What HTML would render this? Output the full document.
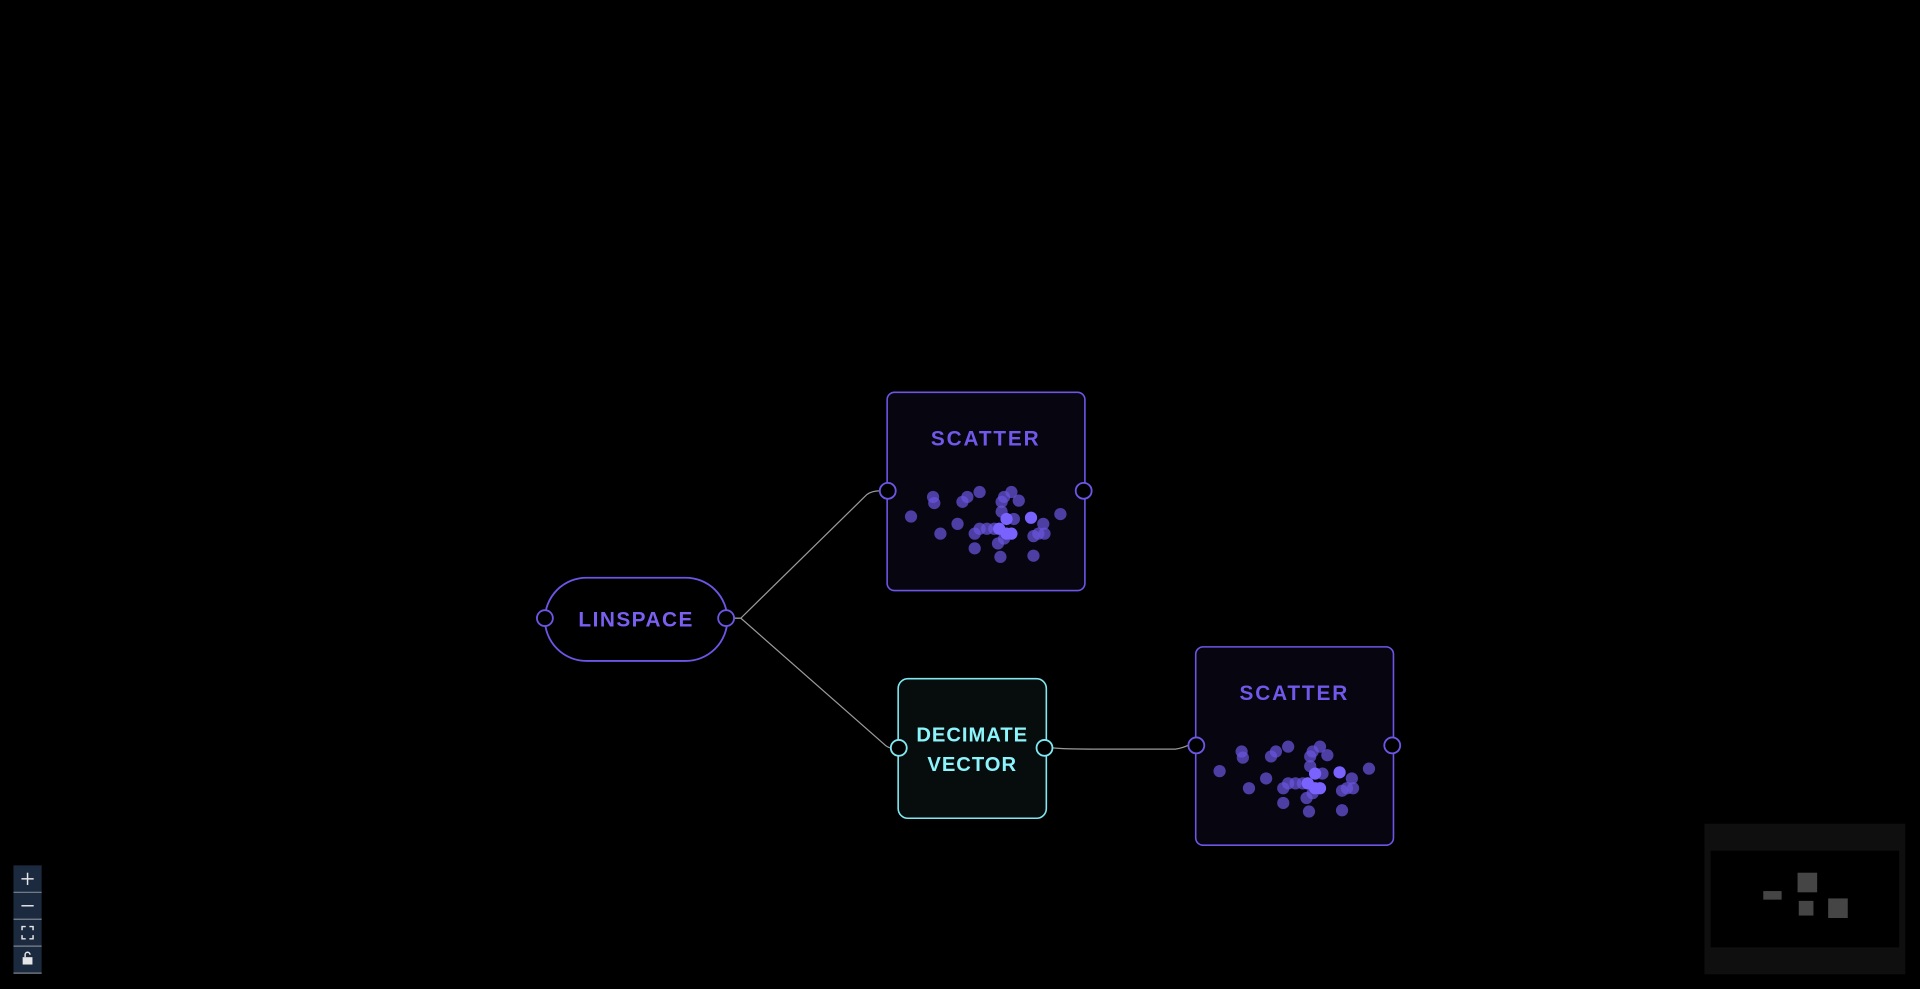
<!DOCTYPE html>
<html><head><meta charset="utf-8"><style>
html,body{margin:0;padding:0;background:#000;width:1920px;height:989px;overflow:hidden}
svg{display:block}
text{font-family:"Liberation Sans",sans-serif;font-weight:bold}
</style></head><body>
<svg width="1920" height="989" viewBox="0 0 1568 808" preserveAspectRatio="none">
<defs>
<g id="dots">
<g fill="#6a54dc" fill-opacity="0.72">
<circle cx="20" cy="102" r="5"/><circle cx="38" cy="86" r="5"/><circle cx="39" cy="91" r="5"/><circle cx="44" cy="116" r="5"/><circle cx="58" cy="108" r="5"/><circle cx="62" cy="90" r="5"/><circle cx="66" cy="86" r="5"/><circle cx="76" cy="82" r="5"/><circle cx="72" cy="116" r="5"/><circle cx="72" cy="128" r="5"/><circle cx="76" cy="112" r="5"/><circle cx="82" cy="112" r="5"/><circle cx="88" cy="112" r="5"/><circle cx="94" cy="90" r="5"/><circle cx="96" cy="86" r="5"/><circle cx="102" cy="82" r="5"/><circle cx="94" cy="98" r="5"/><circle cx="96" cy="120" r="5"/><circle cx="91" cy="124" r="5"/><circle cx="93" cy="135" r="5"/><circle cx="104" cy="104" r="5"/><circle cx="108" cy="89" r="5"/><circle cx="120" cy="118" r="5"/><circle cx="124" cy="116" r="5"/><circle cx="128" cy="108" r="5"/><circle cx="129" cy="116" r="5"/><circle cx="120" cy="134" r="5"/><circle cx="142" cy="100" r="5"/>
</g>
<g fill="#7a62ff">
<circle cx="98" cy="104" r="5"/><circle cx="92" cy="112" r="5"/><circle cx="98" cy="116" r="5"/><circle cx="102" cy="116" r="5"/><circle cx="118" cy="103" r="5"/>
</g>
</g>
</defs>
<!-- edges -->
<g fill="none" stroke="#9a9a9a" stroke-width="1">
<path d="M600 505 L605 505 L708 404 Q712 401 718 401"/>
<path d="M600 505 L605 505 L722 608 Q725 611 728 611"/>
<path d="M860 611 Q866 612 900 612 L960 612 Q966 611 970 609"/>
</g>
<!-- linspace -->
<rect x="445" y="472" width="149" height="68" rx="34" fill="#000" stroke="#6e55e6" stroke-width="1.5"/>
<text x="519.5" y="512" text-anchor="middle" font-size="17" fill="#7a5ff0" letter-spacing="1.2">LINSPACE</text>
<circle cx="445" cy="505" r="6.5" fill="#000" stroke="#6e55e6" stroke-width="1.5"/>
<circle cx="593" cy="505" r="6.5" fill="#000" stroke="#6e55e6" stroke-width="1.5"/>
<!-- scatter 1 -->
<rect x="724.5" y="320.5" width="161.5" height="162" rx="6" fill="#07050f" stroke="#6e55e6" stroke-width="1.3"/>
<text x="805" y="364" text-anchor="middle" font-size="17" fill="#7058ea" letter-spacing="1.5">SCATTER</text>
<g transform="translate(724,320)"><use href="#dots"/></g>
<circle cx="725" cy="401" r="6.5" fill="#000" stroke="#6e55e6" stroke-width="1.5"/>
<circle cx="885" cy="401" r="6.5" fill="#000" stroke="#6e55e6" stroke-width="1.5"/>
<!-- decimate -->
<rect x="733.5" y="554.5" width="121" height="114" rx="8" fill="#070c0d" stroke="#7fe8f0" stroke-width="1.3"/>
<text x="794" y="606" text-anchor="middle" font-size="16.5" fill="#8cf4fb" letter-spacing="0.8">DECIMATE</text>
<text x="794" y="630" text-anchor="middle" font-size="16.5" fill="#8cf4fb" letter-spacing="0.8">VECTOR</text>
<circle cx="734" cy="611" r="6.5" fill="#000" stroke="#7fe8f0" stroke-width="1.5"/>
<circle cx="853" cy="611" r="6.5" fill="#000" stroke="#7fe8f0" stroke-width="1.5"/>
<!-- scatter 2 -->
<rect x="976.5" y="528.5" width="161.5" height="162" rx="6" fill="#07050f" stroke="#6e55e6" stroke-width="1.3"/>
<text x="1057" y="572" text-anchor="middle" font-size="17" fill="#7058ea" letter-spacing="1.5">SCATTER</text>
<g transform="translate(976,528)"><use href="#dots"/></g>
<circle cx="977" cy="609" r="6.5" fill="#000" stroke="#6e55e6" stroke-width="1.5"/>
<circle cx="1137" cy="609" r="6.5" fill="#000" stroke="#6e55e6" stroke-width="1.5"/>
<!-- controls -->
<rect x="11" y="707" width="23" height="88" fill="#1c2a40"/>
<g stroke="#7d8590" stroke-width="1"><line x1="11" y1="729" x2="34" y2="729"/><line x1="11" y1="751" x2="34" y2="751"/><line x1="11" y1="773" x2="34" y2="773"/><line x1="11" y1="795" x2="34" y2="795"/></g>
<g stroke="#e6e6e6" stroke-width="1.2" fill="none">
<line x1="17.5" y1="718" x2="27.5" y2="718"/><line x1="22.5" y1="713" x2="22.5" y2="723"/>
<line x1="17.5" y1="740" x2="27.5" y2="740"/>
<path d="M18 760 v-3 h3 M24 757 h3 v3 M27 764 v3 h-3 M21 767 h-3 v-3"/>
<path d="M20.5 782 v-2 a2 2 0 0 1 4 0" />
</g>
<rect x="18.5" y="782" width="8" height="6" fill="#e6e6e6"/>
<!-- minimap -->
<rect x="1392" y="673" width="164" height="123" fill="#0f0f0f"/>
<rect x="1397" y="695" width="154" height="79" fill="#000"/>
<g fill="#454545">
<rect x="1440" y="728" width="15" height="7"/>
<rect x="1468" y="713" width="16" height="16"/>
<rect x="1469" y="736" width="12" height="12"/>
<rect x="1493" y="734" width="16" height="16"/>
</g>
</svg>
</body></html>
